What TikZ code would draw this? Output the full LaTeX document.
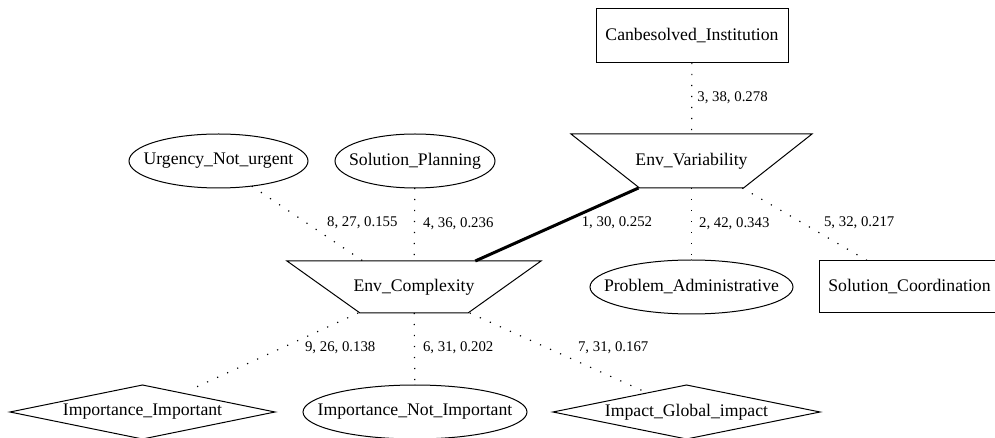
\documentclass[tikz,border=0pt]{standalone}
\usepackage{fontspec}
\setmainfont{Liberation Serif}
\usetikzlibrary{shapes.geometric}
\newcommand\ndfont{\fontsize{17.7bp}{20bp}\selectfont}
\newcommand\edfont{\fontsize{14.8bp}{17bp}\selectfont}
\tikzset{
  shp/.style={draw, line width=1bp, inner sep=0pt, outer sep=0pt},
  ell/.style={shp, ellipse},
  boxnode/.style={shp, rectangle},
  dia/.style={shp, diamond},
  trapframe/.style={rectangle, inner sep=0pt, outer sep=0pt},
  trapline/.style={line width=1bp, line join=miter},
  conn/.style={line width=1.2bp, dash pattern=on 1.2bp off 9.8bp},
  strong/.style={line width=3bp},
  elab/.style={font=\edfont, inner sep=0pt, anchor=west},
  every label/.style={font=\ndfont, inner sep=0pt}
}
\begin{document}
\begin{tikzpicture}[x=1bp, y=-1bp]
\clip (0,0) rectangle (995,438);
\fill[white] (0,0) rectangle (995,438);
% nodes
\node[boxnode, minimum width=192bp, minimum height=54bp, label={center:Canbesolved\_Institution}] (inst) at (692,36) {};
\node[trapframe, minimum width=241bp, minimum height=54bp, label={center:Env\_Variability}] (var) at (691.5,161) {};
\draw[trapline] (var.north west) -- (var.north east) -- ([xshift=-68.5bp]var.south east) -- ([xshift=68.5bp]var.south west) -- cycle;
\node[ell, minimum width=179bp, minimum height=54bp, label={center:Urgency\_Not\_urgent}] (urg) at (218.5,161) {};
\node[ell, minimum width=160bp, minimum height=54bp, label={center:Solution\_Planning}] (plan) at (415,161) {};
\node[trapframe, minimum width=254bp, minimum height=52bp, label={center:Env\_Complexity}] (cx) at (414,287) {};
\draw[trapline] (cx.north west) -- (cx.north east) -- ([xshift=-73bp]cx.south east) -- ([xshift=73bp]cx.south west) -- cycle;
\node[ell, minimum width=203bp, minimum height=54bp, label={center:Problem\_Administrative}] (prob) at (691.5,287) {};
\node[boxnode, minimum width=181bp, minimum height=52bp, label={center:Solution\_Coordination}] (coord) at (909.5,287) {};
\node[dia, minimum width=265bp, minimum height=54bp, label={center:Importance\_Important}] (imp) at (142.5,412) {};
\node[ell, minimum width=224bp, minimum height=54bp, label={center:Importance\_Not\_Important}] (inp) at (415,412) {};
\node[dia, minimum width=267bp, minimum height=54bp, label={center:Impact\_Global\_impact}] (glob) at (686.5,412) {};
% connectors
\draw[conn] (inst) -- node[elab, pos=.49, xshift=5bp] {3, 38, 0.278} (var);
\draw[conn] (var) -- node[elab, pos=.49, xshift=7bp] {2, 42, 0.343} (prob);
\draw[strong] (var.207.7) -- node[elab, pos=.479, xshift=20bp] {1, 30, 0.252} (cx.23.4);
\draw[conn] (var.-28.1) -- node[elab, pos=.479, xshift=21bp] {5, 32, 0.217} (coord.148.7);
\draw[conn] (urg.-37) -- node[elab, pos=.493, xshift=20bp] {8, 27, 0.155} (cx.153);
\draw[conn] (plan) -- node[elab, pos=.49, xshift=8bp] {4, 36, 0.236} (cx);
\draw[conn, shorten >=12bp] (cx.205.7) -- node[elab, pos=.4375, xshift=23bp] {9, 26, 0.138} (imp.25.8);
\draw[conn] (cx) -- node[elab, pos=.486, xshift=8bp] {6, 31, 0.202} (inp);
\draw[conn, shorten >=4bp] (cx.-25.7) -- node[elab, pos=.4375, xshift=30bp] {7, 31, 0.167} (glob.154.4);
\end{tikzpicture}
\end{document}
